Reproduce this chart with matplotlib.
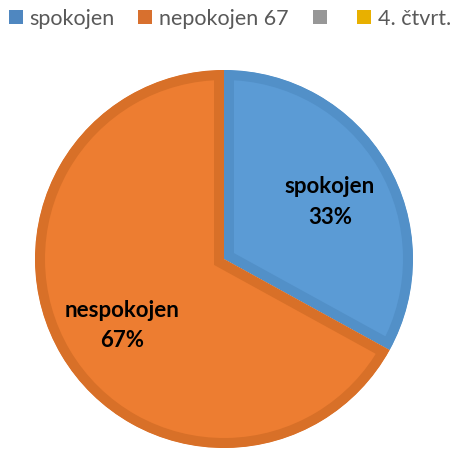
import numpy as np
import matplotlib.pyplot as plt
from matplotlib.patches import Patch

# data
slice_names = ['spokojen', 'nespokojen']
slice_values = [33, 67]
legend_labels = ['spokojen', 'nepokojen 67', '', '4. čtvrt.']

fill_colors = ['#5b9bd5', '#ed7d31']
edge_colors = ['#5290c8', '#d87028']
legend_colors = ['#4f87c0', '#d8702e', '#979797', '#e8b000']

fig = plt.figure(figsize=(4.53, 4.5), dpi=100)
ax = fig.add_axes([35 / 453, 2 / 450, 378 / 453, 378 / 450])

wedges, _ = ax.pie(slice_values, colors=fill_colors, startangle=90, counterclock=False,
                   radius=1.0, wedgeprops=dict(linewidth=14.4))
for w, ec in zip(wedges, edge_colors):
    w.set_edgecolor(ec)
    w.set_clip_path(w)  # keep only the inner half of the border
    w.set_clip_on(True)

ax.set_xlim(-1, 1)
ax.set_ylim(-1, 1)
ax.set_aspect('auto')
ax.axis('off')

total = sum(slice_values)
for w, name, v in zip(wedges, slice_names, slice_values):
    ang = np.deg2rad((w.theta1 + w.theta2) / 2)
    ax.text(0.64 * np.cos(ang) + 0.01, 0.64 * np.sin(ang) - 0.025,
            f"{name}\n{v / total * 100:.0f}%",
            ha='center', va='center', fontsize=16, fontweight='bold', family='Lato',
            linespacing=1.55, color='black')

handles = [Patch(facecolor=c, edgecolor='none') for c in legend_colors]
fig.legend(handles, legend_labels, loc='upper left', bbox_to_anchor=(0.0, 1.0), ncol=4,
           frameon=False, prop={'family': 'Lato', 'size': 15.5}, labelcolor='#595959',
           handlelength=0.65, handleheight=0.65, handletextpad=0.3, columnspacing=1.12,
           borderaxespad=0.15, borderpad=0.25)

fig.savefig('out.png', dpi=100)
